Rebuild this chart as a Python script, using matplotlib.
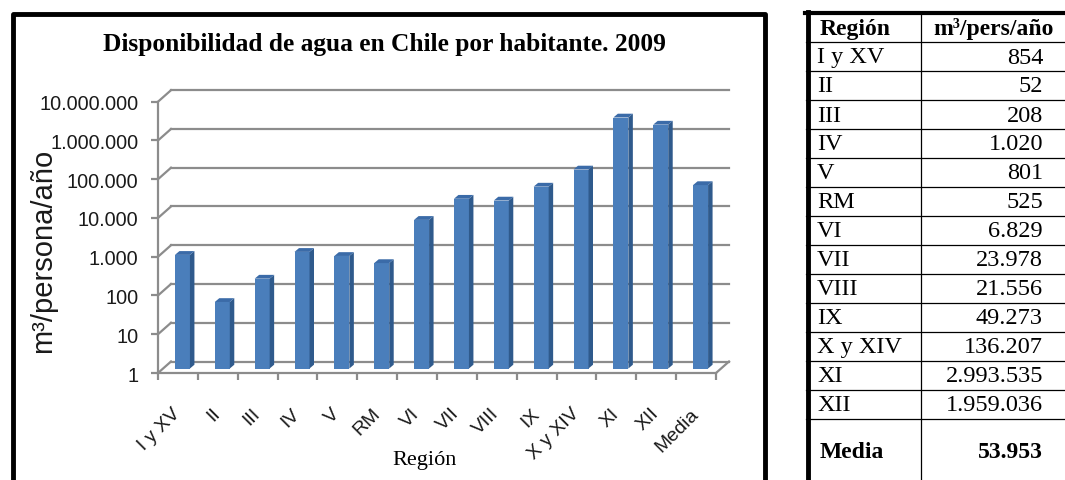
import matplotlib
matplotlib.use('Agg')
import matplotlib.pyplot as plt
import numpy as np
from matplotlib import transforms
from matplotlib.patches import Polygon
from matplotlib.lines import Line2D
from matplotlib.ticker import NullLocator

# data
regions = ['I y XV', 'II', 'III', 'IV', 'V', 'RM', 'VI', 'VII', 'VIII', 'IX',
           'X y XIV', 'XI', 'XII', 'Media']
water = [854, 52, 208, 1020, 801, 525, 6829, 23978, 21556, 49273,
         136207, 2993535, 1959036, 53953]
ytick_vals = [1, 10, 100, 1e3, 1e4, 1e5, 1e6, 1e7]
ytick_labels = ['1', '10', '100', '1.000', '10.000', '100.000', '1.000.000', '10.000.000']
title = 'Disponibilidad de agua en Chile por habitante. 2009'

W, H = 1065, 481
fig = plt.figure(figsize=(W / 100, H / 100), dpi=100)

def fx(p):
    return p / W

def fy(p):
    return 1 - p / H

grey = '#8c8c8c'
front = '#4a7ebb'
side = '#2f5a8c'
top = '#3b6ba8'
sans = 'Liberation Sans'
serif = 'Liberation Serif'

# pixel offsets for the fake 3d look
back_dx, back_dy = 13, 11.5
bar_dx, bar_dy = 4.5, 4.5
depth_dx, depth_dy = 4.5, 3.8
slot = (716 - 158) / len(regions)
w = 15 / slot

###############################################################################
# chart
###############################################################################
ax = fig.add_axes([fx(158), fy(374), (716 - 158) / W, (374 - 102.7) / H])
ax.set_yscale('log')
ax.patch.set_visible(False)

x = np.arange(len(regions))
bar_off = ax.transData + transforms.ScaledTranslation(bar_dx / 100, bar_dy / 100, fig.dpi_scale_trans)
ax.bar(x, np.array(water) - 1, width=w, bottom=1, color=front, transform=bar_off,
       zorder=3, clip_on=False)

ax.set_xlim(-0.5, len(regions) - 0.5)
ax.set_ylim(1, 1e7)

for s in ['top', 'right']:
    ax.spines[s].set_visible(False)
for s in ['left', 'bottom']:
    ax.spines[s].set_color(grey)
    ax.spines[s].set_linewidth(1.6)

ax.set_yticks(ytick_vals, ytick_labels)
ax.yaxis.set_minor_locator(NullLocator())
ax.tick_params(axis='y', length=5, width=1.6, color=grey, pad=9,
               labelsize=14.3, labelcolor='#1a1a1a')
for t in ax.get_yticklabels():
    t.set_fontfamily(sans)

ax.set_xticks(x, regions)
ax.set_xticks(np.arange(-0.5, len(regions)), minor=True)
ax.tick_params(axis='x', which='major', length=0, pad=27, labelsize=14,
               labelcolor='#1a1a1a')
ax.tick_params(axis='x', which='minor', length=5, width=1.6, color=grey)
for t in ax.get_xticklabels():
    t.set_fontfamily(sans)
    t.set_rotation(45)
    t.set_ha('right')
    t.set_va('center')
    t.set_rotation_mode('anchor')

# back wall grid lines
back_off = ax.transData + transforms.ScaledTranslation(back_dx / 100, back_dy / 100, fig.dpi_scale_trans)
ident = transforms.IdentityTransform()
for v in ytick_vals:
    ax.plot([-0.5, len(regions) - 0.5], [v, v], color=grey, lw=1.6,
            transform=back_off, clip_on=False, zorder=1)
    p0 = ax.transData.transform((-0.5, v))
    ax.add_line(Line2D([p0[0], p0[0] + back_dx], [p0[1], p0[1] + back_dy],
                       color=grey, lw=1.6, transform=ident, clip_on=False, zorder=1))
p0 = ax.transData.transform((len(regions) - 0.5, 1))
ax.add_line(Line2D([p0[0], p0[0] + back_dx], [p0[1], p0[1] + back_dy],
                   color=grey, lw=1.6, transform=ident, clip_on=False, zorder=1))

# bar sides and tops
d = np.array([depth_dx, depth_dy])
shift = np.array([bar_dx, bar_dy])
for xi, v in zip(x, water):
    rb = ax.transData.transform((xi + w / 2, 1)) + shift
    rt = ax.transData.transform((xi + w / 2, v)) + shift
    lt = ax.transData.transform((xi - w / 2, v)) + shift
    ax.add_patch(Polygon([rb, rt, rt + d, rb + d], closed=True, facecolor=side,
                         edgecolor='none', transform=ident, clip_on=False, zorder=3))
    ax.add_patch(Polygon([lt, rt, rt + d, lt + d], closed=True, facecolor=top,
                         edgecolor='none', transform=ident, clip_on=False, zorder=3))

fig.text(fx(384), fy(44), title, ha='center', va='center', family=serif,
         weight='bold', size=18.3)
fig.text(fx(425), fy(461), 'Región', ha='center', va='center', family=serif, size=16)
fig.text(fx(43), fy(251), 'm³/persona/año', ha='center', va='center', family=sans,
         size=21, rotation=90, color='#1a1a1a')

# chart frame
fig.add_artist(Line2D([fx(12.5), fx(12.5), fx(765), fx(765)],
                      [fy(500), fy(15), fy(15), fy(500)], color='black', lw=3.5,
                      transform=fig.transFigure))

###############################################################################
# table
###############################################################################
tab = fig.add_axes([0, 0, 1, 1])
tab.set_xlim(0, W)
tab.set_ylim(H, 0)
tab.axis('off')
tab.patch.set_visible(False)

row_lines = [43 + 29 * k for k in range(14)]
for yy in row_lines:
    tab.plot([806, 1065], [yy, yy], color='black', lw=0.9)
tab.plot([805, 1065], [14, 14], color='black', lw=3)
tab.plot([807.5, 807.5], [13, 481], color='black', lw=3.5)
tab.plot([921, 921], [14, 481], color='black', lw=0.9)

tab.text(820, 29, 'Región', ha='left', va='center', family=serif, weight='bold', size=17)
tab.text(993, 29, 'm³/pers/año', ha='center', va='center', family=serif, weight='bold', size=17)
for k, (r, v) in enumerate(zip(regions[:-1], water[:-1])):
    yc = 43 + 29 * k + 15
    tab.text(817, yc, r, ha='left', va='center', family=serif, size=17.5)
    tab.text(1043, yc, f'{v:,}'.replace(',', '.'), ha='right', va='center',
             family=serif, size=17.5)
tab.text(820, 453, regions[-1], ha='left', va='center', family=serif, weight='bold', size=17)
tab.text(1043, 453, f'{water[-1]:,}'.replace(',', '.'), ha='right', va='center',
         family=serif, weight='bold', size=17)

fig.savefig('out.png', dpi=100)
